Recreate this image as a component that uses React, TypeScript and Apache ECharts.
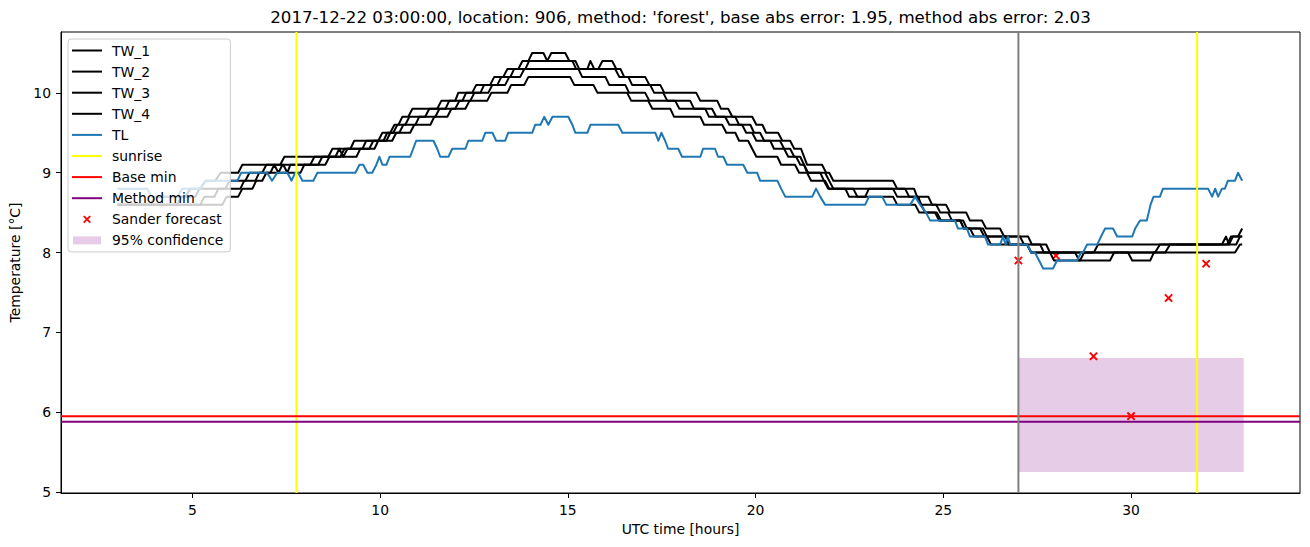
import React, { useEffect, useRef } from "react";
import * as echarts from "echarts";

const TITLE =
  "2017-12-22 03:00:00, location: 906, method: 'forest', base abs error: 1.95, method abs error: 2.03";

// [UTC hour, temperature °C]
const TW_1: number[][] = [[3.00,8.6],[3.88,8.6],[4.01,8.7],[4.81,8.7],[4.95,8.8],[5.21,8.8],[5.35,8.9],[5.61,8.9],[5.75,9.0],[6.22,9.0],[6.33,9.1],[7.34,9.1],[7.45,9.2],[8.62,9.2],[8.73,9.3],[9.21,9.3],[9.31,9.4],[9.95,9.4],[10.06,9.5],[10.27,9.5],[10.38,9.6],[10.49,9.6],[10.59,9.7],[10.75,9.7],[10.86,9.8],[11.52,9.8],[11.63,9.9],[12.00,9.9],[12.08,10.0],[12.45,10.0],[12.56,10.1],[12.93,10.1],[13.04,10.2],[13.28,10.2],[13.39,10.3],[13.68,10.3],[13.79,10.4],[13.95,10.4],[14.05,10.5],[14.35,10.5],[14.45,10.4],[14.56,10.5],[14.93,10.5],[15.04,10.4],[15.12,10.4],[15.22,10.3],[15.52,10.3],[15.60,10.4],[15.70,10.3],[15.81,10.3],[15.92,10.4],[16.18,10.4],[16.29,10.3],[16.40,10.3],[16.50,10.2],[17.06,10.2],[17.17,10.1],[17.46,10.1],[17.57,10.0],[18.42,10.0],[18.53,9.9],[18.98,9.9],[19.08,9.8],[19.27,9.8],[19.38,9.7],[19.91,9.7],[20.02,9.6],[20.18,9.6],[20.28,9.5],[20.60,9.5],[20.71,9.4],[20.92,9.4],[21.03,9.3],[21.21,9.3],[21.37,9.1],[21.77,9.1],[21.88,9.0],[21.96,9.0],[22.07,8.9],[23.66,8.9],[23.77,8.8],[24.22,8.8],[24.30,8.7],[24.41,8.6],[25.07,8.6],[25.18,8.5],[25.61,8.5],[25.71,8.4],[26.03,8.4],[26.14,8.3],[26.51,8.3],[26.62,8.2],[27.26,8.2],[27.36,8.1],[27.74,8.1],[27.84,8.0],[29.01,8.0],[29.12,8.1],[32.42,8.1],[32.53,8.2],[32.61,8.1],[32.71,8.2],[32.85,8.2],[32.96,8.3]];
const TW_2: number[][] = [[3.00,8.6],[4.60,8.6],[4.71,8.7],[5.08,8.7],[5.19,8.8],[5.88,8.8],[5.99,8.9],[6.41,8.9],[6.52,9.0],[6.86,9.0],[6.97,9.1],[7.42,9.1],[7.53,9.0],[7.61,9.1],[8.14,9.1],[8.25,9.2],[8.81,9.2],[8.91,9.3],[9.02,9.2],[9.13,9.3],[9.53,9.3],[9.63,9.4],[10.09,9.4],[10.19,9.5],[10.35,9.5],[10.46,9.6],[10.67,9.6],[10.78,9.7],[11.20,9.7],[11.31,9.8],[11.74,9.8],[11.84,9.9],[12.19,9.9],[12.29,10.0],[12.67,10.0],[12.77,10.1],[13.12,10.1],[13.23,10.2],[13.47,10.2],[13.57,10.3],[13.87,10.3],[13.97,10.4],[15.20,10.4],[15.30,10.3],[16.26,10.3],[16.37,10.2],[16.61,10.2],[16.71,10.1],[17.19,10.1],[17.30,10.0],[17.54,10.0],[17.65,9.9],[18.26,9.9],[18.36,9.8],[18.84,9.8],[18.95,9.7],[19.46,9.7],[19.56,9.6],[19.86,9.6],[19.96,9.5],[20.12,9.5],[20.23,9.4],[20.65,9.4],[20.76,9.3],[20.92,9.3],[21.03,9.2],[21.19,9.2],[21.29,9.1],[21.37,9.0],[21.85,9.0],[21.96,8.9],[22.07,8.8],[23.98,8.8],[24.09,8.7],[24.33,8.7],[24.41,8.6],[24.52,8.5],[24.83,8.5],[24.94,8.4],[25.45,8.4],[25.55,8.3],[26.06,8.3],[26.16,8.2],[27.04,8.2],[27.15,8.1],[27.58,8.1],[27.68,8.0],[30.64,8.0],[30.77,8.1],[32.56,8.1],[32.66,8.2],[32.96,8.2]];
const TW_3: number[][] = [[3.00,8.6],[5.21,8.6],[5.32,8.7],[5.59,8.7],[5.69,8.8],[6.28,8.8],[6.38,8.9],[6.68,8.9],[6.78,9.0],[7.08,9.0],[7.18,9.1],[7.29,9.0],[7.40,9.1],[8.35,9.1],[8.46,9.2],[8.94,9.2],[9.05,9.3],[9.71,9.3],[9.82,9.4],[10.17,9.4],[10.27,9.5],[10.51,9.5],[10.62,9.6],[10.94,9.6],[11.04,9.7],[11.47,9.7],[11.58,9.8],[12.00,9.8],[12.11,9.9],[12.40,9.9],[12.51,10.0],[12.88,10.0],[12.99,10.1],[13.33,10.1],[13.44,10.2],[13.73,10.2],[13.84,10.3],[15.28,10.3],[15.38,10.2],[16.00,10.2],[16.10,10.1],[16.53,10.1],[16.63,10.0],[17.06,10.0],[17.17,9.9],[17.86,9.9],[17.97,9.8],[18.66,9.8],[18.76,9.7],[19.19,9.7],[19.30,9.6],[19.64,9.6],[19.75,9.5],[19.91,9.5],[20.02,9.4],[20.39,9.4],[20.49,9.3],[20.76,9.3],[20.87,9.2],[21.08,9.2],[21.19,9.1],[21.29,9.1],[21.40,9.0],[21.72,9.0],[21.82,8.9],[21.93,8.8],[22.60,8.8],[22.71,8.7],[22.92,8.7],[23.02,8.8],[23.66,8.8],[23.77,8.7],[24.60,8.7],[24.70,8.6],[24.81,8.6],[24.92,8.5],[25.13,8.5],[25.23,8.4],[25.53,8.4],[25.63,8.3],[25.98,8.3],[26.09,8.2],[26.65,8.2],[26.75,8.1],[27.23,8.1],[27.34,8.0],[27.84,8.0],[27.95,7.9],[28.64,7.9],[28.75,8.0],[30.91,8.0],[31.04,8.1],[32.80,8.1],[32.90,8.2],[32.96,8.2]];
const TW_4: number[][] = [[3.00,8.6],[5.80,8.6],[5.91,8.7],[6.22,8.7],[6.33,8.8],[6.60,8.8],[6.70,8.9],[6.86,8.9],[6.97,9.0],[7.88,9.0],[7.98,9.1],[8.54,9.1],[8.65,9.2],[9.37,9.2],[9.47,9.3],[9.85,9.3],[9.95,9.4],[10.32,9.4],[10.43,9.5],[10.80,9.5],[10.91,9.6],[11.34,9.6],[11.44,9.7],[11.79,9.7],[11.90,9.8],[12.27,9.8],[12.38,9.9],[12.85,9.9],[12.96,10.0],[13.39,10.0],[13.49,10.1],[13.84,10.1],[13.95,10.2],[15.06,10.2],[15.17,10.1],[15.68,10.1],[15.79,10.0],[16.58,10.0],[16.69,9.9],[17.14,9.9],[17.25,9.8],[17.73,9.8],[17.83,9.7],[18.53,9.7],[18.63,9.6],[19.11,9.6],[19.22,9.5],[19.46,9.5],[19.56,9.4],[19.80,9.4],[19.91,9.3],[20.02,9.2],[20.58,9.2],[20.68,9.1],[21.05,9.1],[21.16,9.0],[21.37,9.0],[21.48,8.9],[21.85,8.9],[21.96,8.8],[22.39,8.8],[22.49,8.7],[23.66,8.7],[23.77,8.6],[24.25,8.6],[24.36,8.5],[24.78,8.5],[24.89,8.4],[25.45,8.4],[25.55,8.3],[25.71,8.3],[25.82,8.2],[26.16,8.2],[26.27,8.1],[27.23,8.1],[27.34,8.0],[28.51,8.0],[28.62,7.9],[29.44,7.9],[29.55,8.0],[29.92,8.0],[30.03,7.9],[30.51,7.9],[30.61,8.0],[32.77,8.0],[32.90,8.1],[32.96,8.1]];
const TL: number[][] = [[3.00,8.8],[3.80,8.8],[3.91,8.7],[4.60,8.7],[4.73,8.8],[5.21,8.8],[5.35,8.9],[6.20,8.9],[6.30,9.0],[6.99,9.0],[7.12,8.9],[7.26,9.0],[7.53,9.0],[7.64,8.9],[7.74,9.0],[7.82,9.0],[7.93,8.9],[8.22,8.9],[8.33,9.0],[9.34,9.0],[9.45,9.1],[9.55,9.1],[9.66,9.0],[9.79,9.0],[9.90,9.1],[9.98,9.2],[10.06,9.1],[10.17,9.1],[10.25,9.2],[10.80,9.2],[10.88,9.3],[10.96,9.4],[11.42,9.4],[11.52,9.3],[11.60,9.2],[11.82,9.2],[11.92,9.3],[12.27,9.3],[12.35,9.4],[12.72,9.4],[12.80,9.5],[12.99,9.5],[13.09,9.4],[13.33,9.4],[13.41,9.5],[14.05,9.5],[14.13,9.6],[14.27,9.6],[14.37,9.7],[14.48,9.6],[14.59,9.7],[15.01,9.7],[15.12,9.6],[15.20,9.5],[15.52,9.5],[15.60,9.6],[16.34,9.6],[16.45,9.5],[17.33,9.5],[17.41,9.4],[17.49,9.5],[17.59,9.4],[17.67,9.3],[17.94,9.3],[18.04,9.2],[18.53,9.2],[18.60,9.3],[18.92,9.3],[19.00,9.2],[19.14,9.2],[19.24,9.1],[19.67,9.1],[19.78,9.0],[20.04,9.0],[20.12,8.9],[20.58,8.9],[20.68,8.8],[20.79,8.7],[21.51,8.7],[21.61,8.8],[21.72,8.7],[21.85,8.6],[22.92,8.6],[23.02,8.7],[23.37,8.7],[23.48,8.6],[24.12,8.6],[24.25,8.7],[24.38,8.6],[24.54,8.5],[24.65,8.4],[25.31,8.4],[25.39,8.3],[25.63,8.3],[25.71,8.2],[26.11,8.2],[26.19,8.1],[26.51,8.1],[26.59,8.2],[26.66,8.1],[26.72,8.2],[26.78,8.1],[27.23,8.1],[27.34,8.0],[27.44,8.0],[27.55,7.9],[27.66,7.8],[27.92,7.8],[28.03,7.9],[28.56,7.9],[28.67,8.0],[28.72,8.0],[28.83,8.1],[29.10,8.1],[29.20,8.2],[29.31,8.3],[29.52,8.3],[29.63,8.2],[30.03,8.2],[30.11,8.3],[30.24,8.4],[30.42,8.4],[30.52,8.6],[30.60,8.7],[30.77,8.7],[30.85,8.8],[32.05,8.8],[32.16,8.7],[32.24,8.8],[32.32,8.7],[32.42,8.8],[32.50,8.8],[32.58,8.9],[32.77,8.9],[32.85,9.0],[32.96,8.9]];

const SUNRISE_HOURS = [7.77, 31.76];
const NOW_HOUR = 27.0;
const BASE_MIN = 5.95;
const METHOD_MIN = 5.88;
const FORECAST_HOURS = [27, 28, 29, 30, 31, 32];
const FORECAST_VALUES = [7.9, 7.96, 6.7, 5.95, 7.43, 7.86];
const CONFIDENCE = [[27.0, 33.0, 5.25, 6.68]]; // [start hour, end hour, low, high]

const X_TICKS = [5, 10, 15, 20, 25, 30];
const Y_TICKS = [5, 6, 7, 8, 9, 10];
const X_MIN = 1.5;
const X_MAX = 34.5;
const Y_MIN = 4.9875;
const Y_MAX = 10.7625;

const FONT = "DejaVu Sans";
const X_PATH =
  "path://M-4,-4L-4,-4M14,14L14,14M0,1.6L1.6,0L5,3.4L8.4,0L10,1.6L6.6,5L10,8.4L8.4,10L5,6.6L1.6,10L0,8.4L3.4,5Z";
const RECT_PATH = "path://M0,0L0,0M30,14L30,14M1,3L29,3L29,11L1,11Z";
const LINE_PATH = "path://M0,0L0,0M30,14L30,14M0,6L30,6L30,8L0,8Z";
const CONF_COLOR = "rgba(128,0,128,0.2)";

function lineSeries(name: string, data: number[][], color: string, width = 2) {
  return {
    name,
    type: "line",
    data,
    symbol: "none",
    showSymbol: false,
    silent: true,
    lineStyle: { color, width, join: "round" },
    itemStyle: { color },
  };
}

function buildOption() {
  const series: any[] = [];
  series.push({
    name: "95% confidence",
    type: "custom",
    data: CONFIDENCE,
    encode: { x: [0, 1], y: [2, 3] },
    itemStyle: { color: CONF_COLOR },
    silent: true,
    renderItem: (_p: any, api: any) => {
      const a = api.coord([api.value(0), api.value(3)]);
      const b = api.coord([api.value(1), api.value(2)]);
      return {
        type: "rect",
        shape: { x: a[0], y: a[1], width: b[0] - a[0], height: b[1] - a[1] },
        style: { fill: CONF_COLOR },
      };
    },
  });
  series.push(lineSeries("TW_1", TW_1, "#000000"));
  series.push(lineSeries("TW_2", TW_2, "#000000"));
  series.push(lineSeries("TW_3", TW_3, "#000000"));
  series.push(lineSeries("TW_4", TW_4, "#000000"));
  series.push(lineSeries("TL", TL, "#1f77b4"));
  SUNRISE_HOURS.forEach((h) =>
    series.push(lineSeries("sunrise", [[h, Y_MIN], [h, Y_MAX]], "#ffff00"))
  );
  series.push(lineSeries("Base min", [[X_MIN, BASE_MIN], [X_MAX, BASE_MIN]], "#ff0000"));
  series.push(lineSeries("Method min", [[X_MIN, METHOD_MIN], [X_MAX, METHOD_MIN]], "#800080"));
  series.push(lineSeries("now", [[NOW_HOUR, Y_MIN], [NOW_HOUR, Y_MAX]], "#808080"));
  series.push({
    name: "Sander forecast",
    type: "scatter",
    data: FORECAST_HOURS.map((h, i) => [h, FORECAST_VALUES[i]]),
    symbol: X_PATH,
    symbolSize: 15.5,
    itemStyle: { color: "#ff0000", opacity: 1 },
    silent: true,
  });

  const lineItem = (name: string) => ({ name, icon: LINE_PATH });

  return {
    animation: false,
    textStyle: { fontFamily: FONT },
    title: {
      text: TITLE,
      left: 680.5,
      top: 9,
      textAlign: "center",
      padding: 0,
      textStyle: { fontFamily: FONT, fontSize: 16.67, fontWeight: "normal", color: "#000" },
    },
    grid: {
      left: 61,
      right: 10,
      top: 32,
      bottom: 54,
      show: true,
      borderColor: "#000",
      borderWidth: 1,
      backgroundColor: "transparent",
    },
    legend: {
      orient: "vertical",
      left: 68,
      top: 39,
      selectedMode: false,
      data: [
        lineItem("TW_1"),
        lineItem("TW_2"),
        lineItem("TW_3"),
        lineItem("TW_4"),
        lineItem("TL"),
        lineItem("sunrise"),
        lineItem("Base min"),
        lineItem("Method min"),
        { name: "Sander forecast", icon: X_PATH, itemStyle: { opacity: 1 } },
        { name: "95% confidence", icon: RECT_PATH },
      ],
      itemWidth: 30,
      itemHeight: 14,
      itemGap: 7.1,
      padding: [4.5, 7, 4.5, 4],
      backgroundColor: "rgba(255,255,255,0.8)",
      borderColor: "#cccccc",
      borderWidth: 1,
      borderRadius: 3,
      symbolKeepAspect: true,
      textStyle: { fontFamily: FONT, fontSize: 13.9, color: "#000", lineHeight: 14, padding: [0, 0, 0, 5] },
    },
    xAxis: {
      type: "value",
      min: X_MIN,
      max: X_MAX,
      name: "UTC time [hours]",
      nameLocation: "middle",
      nameGap: 29,
      nameTextStyle: { fontFamily: FONT, fontSize: 13.9, color: "#000" },
      axisLine: { show: true, onZero: false, lineStyle: { color: "#000", width: 1 } },
      axisTick: { show: true, length: 5, lineStyle: { color: "#000", width: 1 }, customValues: X_TICKS },
      axisLabel: { fontFamily: FONT, fontSize: 13.9, color: "#000", margin: 10, customValues: X_TICKS },
      splitLine: { show: false },
    },
    yAxis: {
      type: "value",
      min: Y_MIN,
      max: Y_MAX,
      name: "Temperature [°C]",
      nameLocation: "middle",
      nameGap: 29,
      nameTextStyle: { fontFamily: FONT, fontSize: 13.9, color: "#000" },
      axisLine: { show: true, onZero: false, lineStyle: { color: "#000", width: 1 } },
      axisTick: { show: true, length: 5, lineStyle: { color: "#000", width: 1 }, customValues: Y_TICKS },
      axisLabel: { fontFamily: FONT, fontSize: 13.9, color: "#000", margin: 10, customValues: Y_TICKS },
      splitLine: { show: false },
    },
    series,
  };
}

export default function App() {
  const ref = useRef<HTMLDivElement>(null);
  useEffect(() => {
    document.body.style.margin = "0";
    const chart = echarts.init(ref.current as HTMLDivElement, null, { renderer: "svg" });
    chart.setOption(buildOption() as any);
    return () => chart.dispose();
  }, []);
  return <div ref={ref} style={{ width: 1310, height: 547 }} />;
}
